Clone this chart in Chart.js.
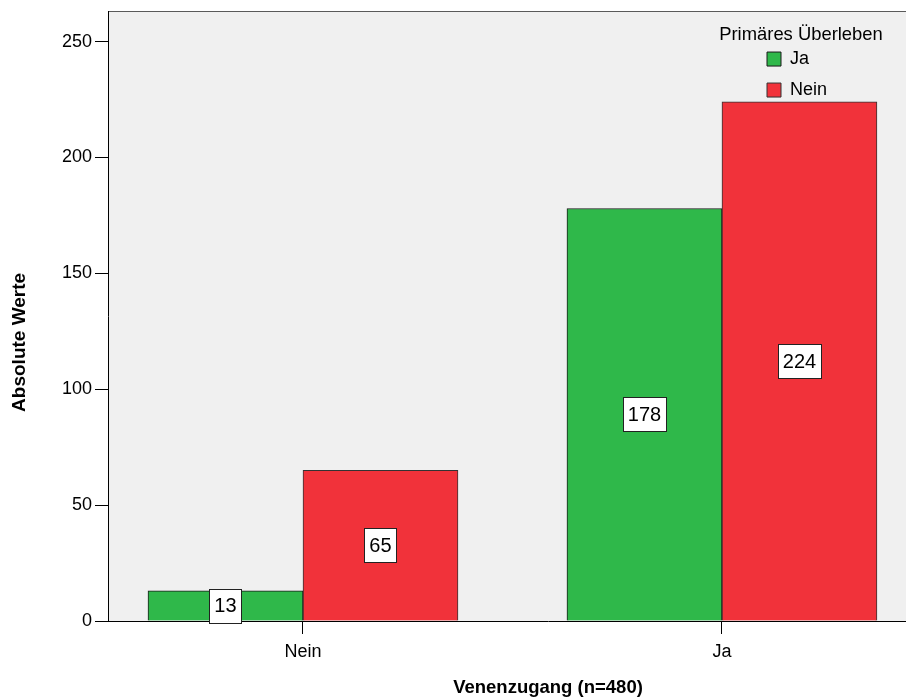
<!DOCTYPE html>
<html>
<head>
<meta charset="utf-8">
<script src="https://cdn.jsdelivr.net/npm/chart.js@4"></script>
<style>
  html, body { margin: 0; padding: 0; overflow: hidden; background: #fff; }
</style>
</head>
<body>
<canvas id="chart" width="1000" height="700"></canvas>
<script>
// --- data ---
const categories = ['Nein', 'Ja'];           // Venenzugang
const seriesLabels = ['Ja', 'Nein'];         // Primäres Überleben
const jaValues = [13, 178];
const neinValues = [65, 224];
const yTicks = [0, 50, 100, 150, 200, 250];

const GREEN = 'rgb(47, 184, 74)';
const RED = 'rgb(241, 50, 58)';

Chart.defaults.font.family = '"Liberation Sans", Arial, sans-serif';
Chart.defaults.font.size = 18;
Chart.defaults.color = '#000000';

function toPoints(values) {
    return values.map((v, i) => ({ x: i, y: v }));
}

// grey plot background + top frame line
const plotBackground = {
    id: 'plotBackground',
    beforeDraw(chart) {
        const { ctx, chartArea } = chart;
        ctx.save();
        ctx.fillStyle = '#f0f0f0';
        ctx.fillRect(chartArea.left, chartArea.top, chartArea.right - chartArea.left, chartArea.bottom - chartArea.top);
        ctx.strokeStyle = '#5a5a5a';
        ctx.lineWidth = 1;
        ctx.beginPath();
        ctx.moveTo(chartArea.left, chartArea.top + 0.5);
        ctx.lineTo(chartArea.right, chartArea.top + 0.5);
        ctx.stroke();
        ctx.restore();
    }
};

// put the legend in the upper right part of the plot
const legendPlacer = {
    id: 'legendPlacer',
    afterLayout(chart) {
        const legend = chart.legend;
        const area = chart.chartArea;
        const left = area.left + 646;
        const width = 94;
        legend.left = left;
        legend.right = left + width;
        legend.width = width;
        legend.top = area.top + 14;
        legend.bottom = area.bottom;
        legend.height = legend.bottom - legend.top;
        // the title is wider than the item column, so don't clip it to the box
        if (typeof legend._draw === 'function') {
            legend.draw = function () { if (this.options.display) this._draw(); };
        }
    }
};

// white value boxes in the middle of each bar
const valueBoxes = {
    id: 'valueBoxes',
    afterDatasetsDraw(chart) {
        const ctx = chart.ctx;
        ctx.save();
        ctx.font = '20px "Liberation Sans", Arial, sans-serif';
        ctx.textAlign = 'center';
        ctx.textBaseline = 'middle';
        chart.data.datasets.forEach((ds, di) => {
            chart.getDatasetMeta(di).data.forEach((bar, i) => {
                const text = String(ds.data[i].y);
                const cx = bar.x;
                const cy = (bar.y + bar.base) / 2;
                const w = Math.round(ctx.measureText(text).width + 10);
                const h = 34;
                const x0 = Math.round(cx - w / 2) + 0.5;
                const y0 = Math.round(cy - h / 2) + 0.5;
                ctx.fillStyle = '#ffffff';
                ctx.fillRect(x0, y0, w, h);
                ctx.strokeStyle = '#222222';
                ctx.lineWidth = 1;
                ctx.strokeRect(x0, y0, w, h);
                ctx.fillStyle = '#000000';
                ctx.fillText(text, cx, cy + 1);
            });
        });
        ctx.restore();
    }
};

new Chart(document.getElementById('chart'), {
    type: 'bar',
    data: {
        datasets: [
            {
                label: seriesLabels[0],
                data: toPoints(jaValues),
                backgroundColor: GREEN,
                borderColor: '#1a1a1a',
                borderWidth: 1,
                barThickness: 155
            },
            {
                label: seriesLabels[1],
                data: toPoints(neinValues),
                backgroundColor: RED,
                borderColor: '#333333',
                borderWidth: 1,
                barThickness: 155
            }
        ]
    },
    options: {
        responsive: false,
        animation: false,
        layout: { padding: { top: 11, left: 0, right: 12, bottom: 0 } },
        scales: {
            x: {
                type: 'linear',
                offset: false,
                min: -0.4654,
                max: 1.635,
                afterBuildTicks: (scale) => { scale.ticks = categories.map((c, i) => ({ value: i })); },
                afterFit: (scale) => { scale.height = 79; },
                ticks: {
                    padding: 7,
                    maxRotation: 0,
                    autoSkip: false,
                    callback: (v) => categories[v]
                },
                grid: { offset: false, drawOnChartArea: false, drawTicks: true, tickLength: 13, color: '#000000' },
                border: { display: true, color: '#000000', width: 1 },
                title: {
                    display: true,
                    text: 'Venenzugang (n=480)',
                    font: { size: 18.5, weight: 'bold' },
                    padding: { top: 0, bottom: 1 }
                }
            },
            y: {
                min: 0,
                max: 263.2,
                afterBuildTicks: (scale) => { scale.ticks = yTicks.map(v => ({ value: v })); },
                afterFit: (scale) => {
                    scale.width = 108;
                    scale.paddingTop = 0;
                    scale.paddingBottom = 0;
                },
                ticks: { padding: 3 },
                grid: { drawOnChartArea: false, drawTicks: true, tickLength: 13, color: '#000000' },
                border: { display: true, color: '#000000', width: 1 },
                title: {
                    display: true,
                    // trailing spaces push the title down to where the reference has it
                    text: 'Absolute Werte          ',
                    font: { size: 19, weight: 'bold' },
                    padding: { top: 8, bottom: 0 }
                }
            }
        },
        plugins: {
            legend: {
                position: 'chartArea',
                align: 'start',
                title: {
                    display: true,
                    text: 'Primäres Überleben',
                    font: { size: 18.4, lineHeight: 0.6 },
                    padding: { top: 1, bottom: 0 }
                },
                labels: {
                    boxWidth: 14,
                    boxHeight: 14,
                    padding: 13,
                    font: { size: 18 },
                    color: '#000000'
                }
            },
            tooltip: { enabled: false }
        }
    },
    plugins: [plotBackground, legendPlacer, valueBoxes]
});
</script>
</body>
</html>
